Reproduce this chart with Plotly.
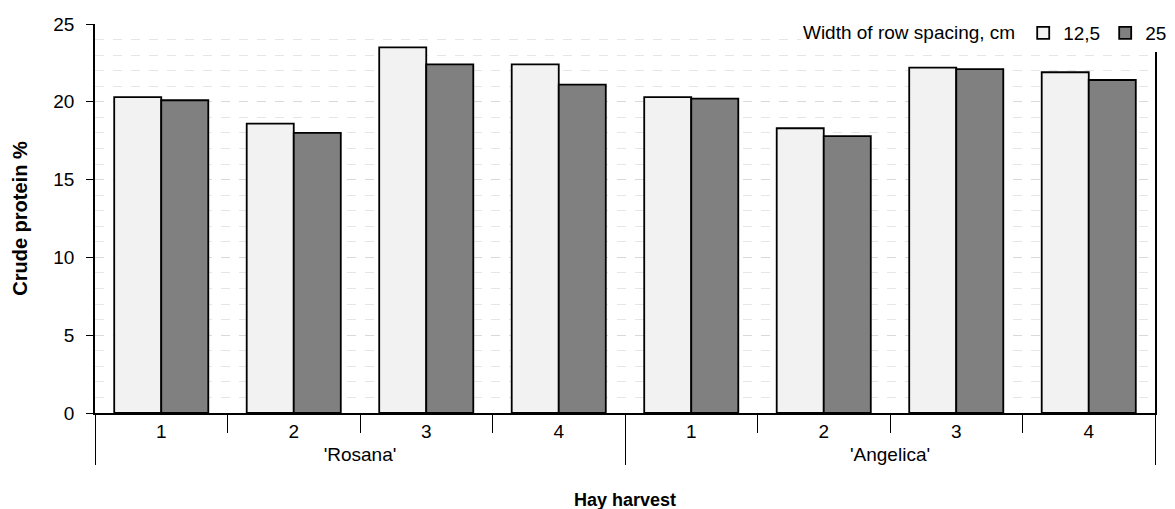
import plotly.graph_objects as go

varieties = ["'Rosana'"] * 4 + ["'Angelica'"] * 4
harvests = ["1", "2", "3", "4", "1", "2", "3", "4"]
spacing_12_5 = [20.3, 18.6, 23.5, 22.4, 20.3, 18.3, 22.2, 21.9]
spacing_25 = [20.1, 18.0, 22.4, 21.1, 20.2, 17.8, 22.1, 21.4]
series_names = ["12,5", "25"]
series_colors = ["#f2f2f2", "#808080"]

FONT = "Liberation Sans, Arial, sans-serif"

fig = go.Figure()
for name, vals, col in zip(series_names, [spacing_12_5, spacing_25], series_colors):
    fig.add_trace(go.Bar(
        x=[varieties, harvests], y=vals, name=name,
        marker=dict(color=col, line=dict(color="black", width=1.8)),
    ))

fig.update_layout(
    width=1175, height=509,
    margin=dict(l=87, r=28, t=16, b=104, autoexpand=False),
    paper_bgcolor="white", plot_bgcolor="white",
    font=dict(family=FONT, size=19, color="black"),
    barmode="group", bargap=0.29, bargroupgap=0,
    legend=dict(
        orientation="h", x=1.016, xanchor="right", y=0.977, yanchor="middle",
        bgcolor="white", font=dict(size=19),
        title=dict(text="Width of row spacing, cm", side="left", font=dict(size=19)),
        itemwidth=30, tracegroupgap=0,
    ),
    xaxis=dict(
        type="multicategory", showline=True, linecolor="black", linewidth=1.5,
        ticks="outside", tickson="boundaries", ticklen=18, tickcolor="black", tickwidth=1.2,
        showdividers=True, dividercolor="black", dividerwidth=1.2,
        tickfont=dict(size=19), automargin=False,
        title=dict(text="<b>Hay harvest</b>", font=dict(size=18), standoff=30),
        showgrid=False, mirror=False,
    ),
    yaxis=dict(
        range=[0, 25], dtick=5, showline=True, linecolor="black", linewidth=1.5,
        mirror=True, ticks="outside", ticklen=7, tickcolor="black", tickwidth=1.2,
        tickfont=dict(size=19), ticklabelstandoff=8, automargin=False,
        showgrid=True, gridcolor="#d9d9d9", griddash="dash", gridwidth=1.2,
        minor=dict(dtick=1, showgrid=True, gridcolor="#e6e6e6", griddash="dash", gridwidth=1),
        zeroline=False,
        title=dict(text="<b>Crude protein %</b>", font=dict(size=20), standoff=20),
    ),
)

fig.write_html("out.html")
